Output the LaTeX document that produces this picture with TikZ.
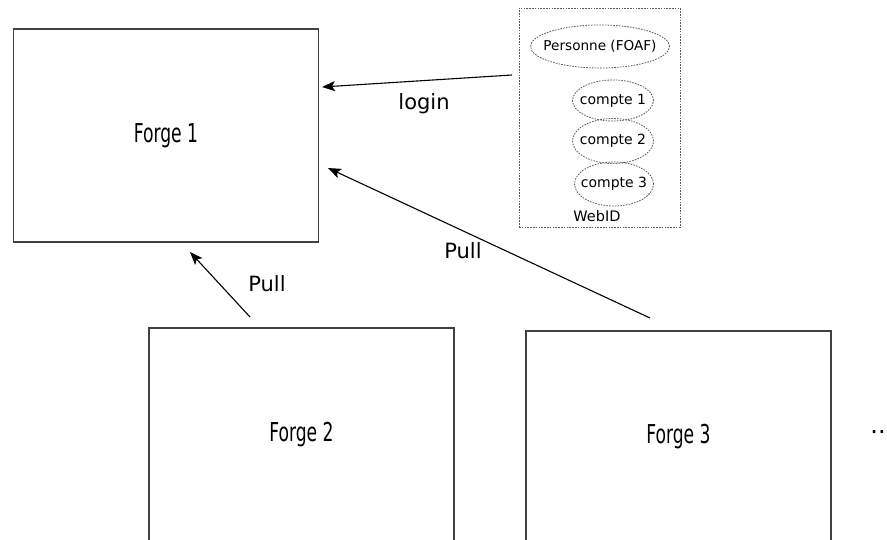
\documentclass[tikz,border=0pt]{standalone}
\usepackage{fontspec}
\setmainfont{DejaVu Sans}
\newfontfamily\narrowfont[FakeStretch=0.66]{DejaVu Sans}
\usetikzlibrary{arrows.meta,shapes.geometric}
% keep ellipse size fixed by the minimum size, not by the text width
\newcommand{\zerowidth}[1]{\makebox[0pt][c]{#1}}
\begin{document}
\begin{tikzpicture}[x=1pt,y=-1pt,
  forge/.style={draw=black!75, line width=1.3pt, rectangle, inner sep=0pt,
    minimum width=305pt, font=\narrowfont\fontsize{26}{30}\selectfont},
  dotted box/.style={draw=black!65, line width=0.8pt, dash pattern=on 1.6pt off 1.2pt},
  acct/.style={dotted box, ellipse, inner sep=0pt, font=\fontsize{14}{16}\selectfont},
  link/.style={draw=black, line width=1.1pt, -{Stealth[length=13pt,width=10pt,inset=3pt]}},
  lbl/.style={font=\fontsize{21}{25}\selectfont, inner sep=0pt}]
  \useasboundingbox (0,0) rectangle (887,540);
  \clip (0,0) rectangle (887,540);

  % forges
  \node[forge, minimum height=213pt] (f1) at (166,135.5) {Forge 1};
  \node[forge, minimum height=214pt] (f2) at (301.5,435) {Forge 2};
  \node[forge, minimum height=212pt] (f3) at (678.5,437) {Forge 3};

  % WebID container and its accounts
  \node[dotted box, rectangle, minimum width=161pt, minimum height=219pt, inner sep=0pt] (webid) at (599.5,117.5) {};
  \node[acct, minimum width=139pt, minimum height=43pt, font=\fontsize{13.6}{16}\selectfont] (pers) at (600,46.5) {\zerowidth{Personne (FOAF)}};
  \node[acct, minimum width=81pt, minimum height=41pt] (c1) at (613,100.5) {\zerowidth{compte 1}};
  \node[acct, minimum width=81pt, minimum height=45pt] (c2) at (613,141) {\zerowidth{compte 2}};
  \node[acct, minimum width=79pt, minimum height=44pt] (c3) at (614,184) {\zerowidth{compte 3}};
  \node[font=\fontsize{14.5}{17}\selectfont, inner sep=0pt] (wlbl) at (597,216) {WebID};

  % connectors
  \coordinate (ls) at (512,75);
  \coordinate (le) at (322,87);
  \coordinate (p3s) at (650,318);
  \coordinate (p3e) at (328,168);
  \coordinate (p2s) at (250,317);
  \coordinate (p2e) at (190,252);
  \draw[link] (ls) -- (le);
  \draw[link] (p3s) -- (p3e);
  \draw[link] (p2s) -- (p2e);

  % connector labels
  \node[lbl] (tlogin) at (424,104) {login};
  \node[lbl] (tpull1) at (463,251) {Pull};
  \node[lbl] (tpull2) at (267,284) {Pull};

  % more forges
  \node[font=\fontsize{24}{28}\selectfont, inner sep=0pt] (more) at (878,432) {..};
\end{tikzpicture}
\end{document}
